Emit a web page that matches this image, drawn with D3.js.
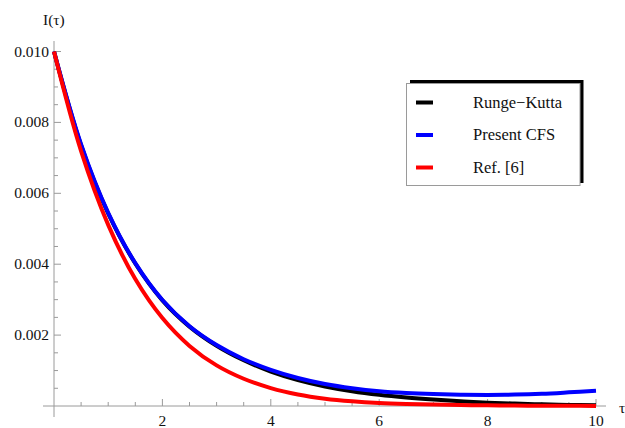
<!DOCTYPE html>
<html><head><meta charset="utf-8">
<script src="https://cdn.jsdelivr.net/npm/d3@7"></script>
<style>body{margin:0;background:#fff}svg{display:block}text{font-family:"Liberation Serif","Times New Roman",serif;fill:#111}</style>
</head><body><svg id="c" width="625" height="428"></svg>
<script>
const tau = [0,0.5,1,1.5,2,2.5,3,3.5,4,4.5,5,5.5,6,6.5,7,7.5,8,8.5,9,9.5,10];
const rungeKutta = [10,7.35,5.43,4.02,2.98,2.24,1.70,1.29,0.97,0.73,0.55,0.415,0.315,0.24,0.182,0.135,0.095,0.068,0.047,0.031,0.02];
const presentCFS = [10,7.38,5.45,4.03,2.99,2.25,1.72,1.32,1.02,0.79,0.62,0.50,0.415,0.365,0.335,0.318,0.313,0.322,0.345,0.385,0.43];
const ref6 = [10,7.19,5.11,3.58,2.48,1.695,1.145,0.768,0.505,0.325,0.207,0.133,0.085,0.057,0.039,0.027,0.018,0.012,0.008,0.005,0.003];
const scaleFactor = 0.001;
const yTicks = [0.002,0.004,0.006,0.008,0.010];
const xTicks = [2,4,6,8,10];
const legendNames = ["Runge\u2212Kutta","Present CFS","Ref. [6]"];
const colors = ["#000000","#0000ff","#ff0000"];

const svg = d3.select("#c");
const x = d3.scaleLinear().domain([0,10]).range([54,596]);
const y = d3.scaleLinear().domain([0,0.010]).range([406,51.5]);

// axes
const axCol = "#9a9a9a";
svg.append("line").attr("x1",43).attr("x2",606).attr("y1",y(0)).attr("y2",y(0)).attr("stroke",axCol).attr("stroke-width",1);
svg.append("line").attr("x1",x(0)).attr("x2",x(0)).attr("y1",41).attr("y2",417).attr("stroke",axCol).attr("stroke-width",1);

// x ticks
const xMinor = d3.range(0.5,10.01,0.5).filter(v=>Math.abs(v%2)>1e-6);
svg.selectAll(".xm").data(xMinor).enter().append("line")
  .attr("x1",d=>x(d)).attr("x2",d=>x(d)).attr("y1",y(0)).attr("y2",y(0)-4).attr("stroke",axCol);
svg.selectAll(".xM").data(xTicks).enter().append("line")
  .attr("x1",d=>x(d)).attr("x2",d=>x(d)).attr("y1",y(0)).attr("y2",y(0)-7).attr("stroke",axCol);
svg.selectAll(".xl").data(xTicks).enter().append("text")
  .attr("x",d=>x(d)).attr("y",426).attr("text-anchor","middle").attr("font-size",15.5).text(d=>d);

// y ticks
const yMinor = d3.range(1,21).map(i=>i*0.0005).filter(v=>Math.round(v*10000)%20!==0);
svg.selectAll(".ym").data(yMinor).enter().append("line")
  .attr("x1",x(0)).attr("x2",x(0)+4).attr("y1",d=>y(d)).attr("y2",d=>y(d)).attr("stroke",axCol);
svg.selectAll(".yM").data(yTicks).enter().append("line")
  .attr("x1",x(0)).attr("x2",x(0)+7).attr("y1",d=>y(d)).attr("y2",d=>y(d)).attr("stroke",axCol);
svg.selectAll(".yl").data(yTicks).enter().append("text")
  .attr("x",49).attr("y",d=>y(d)+5).attr("text-anchor","end").attr("font-size",15.5).text(d=>d3.format(".3f")(d));

svg.append("text").attr("x",43).attr("y",25).attr("font-size",15.5).text("I(\u03c4)");
svg.append("text").attr("x",619).attr("y",413).attr("font-size",15.5).text("\u03c4");

// curves
const line = d3.line().x(d=>x(d[0])).y(d=>y(d[1]*scaleFactor)).curve(d3.curveCatmullRom.alpha(0.5));
[rungeKutta,presentCFS,ref6].forEach((s,i)=>{
  svg.append("path").attr("d",line(tau.map((t,j)=>[t,s[j]])))
    .attr("fill","none").attr("stroke",colors[i]).attr("stroke-width",4).attr("stroke-linejoin","round");
});

// legend
const lg = svg.append("g");
lg.append("rect").attr("x",410).attr("y",80).attr("width",173.5).attr("height",103).attr("fill","#000");
lg.append("rect").attr("x",406.5).attr("y",83.5).attr("width",173.5).attr("height",102).attr("fill","#fff").attr("stroke","#9a9a9a").attr("stroke-width",1);
const ly = [102.5,135,167.5];
legendNames.forEach((n,i)=>{
  lg.append("line").attr("x1",416).attr("x2",433).attr("y1",ly[i]).attr("y2",ly[i]).attr("stroke",colors[i]).attr("stroke-width",4);
  lg.append("text").attr("x",473).attr("y",ly[i]+5).attr("font-size",16.5).text(n);
});
</script></body></html>
